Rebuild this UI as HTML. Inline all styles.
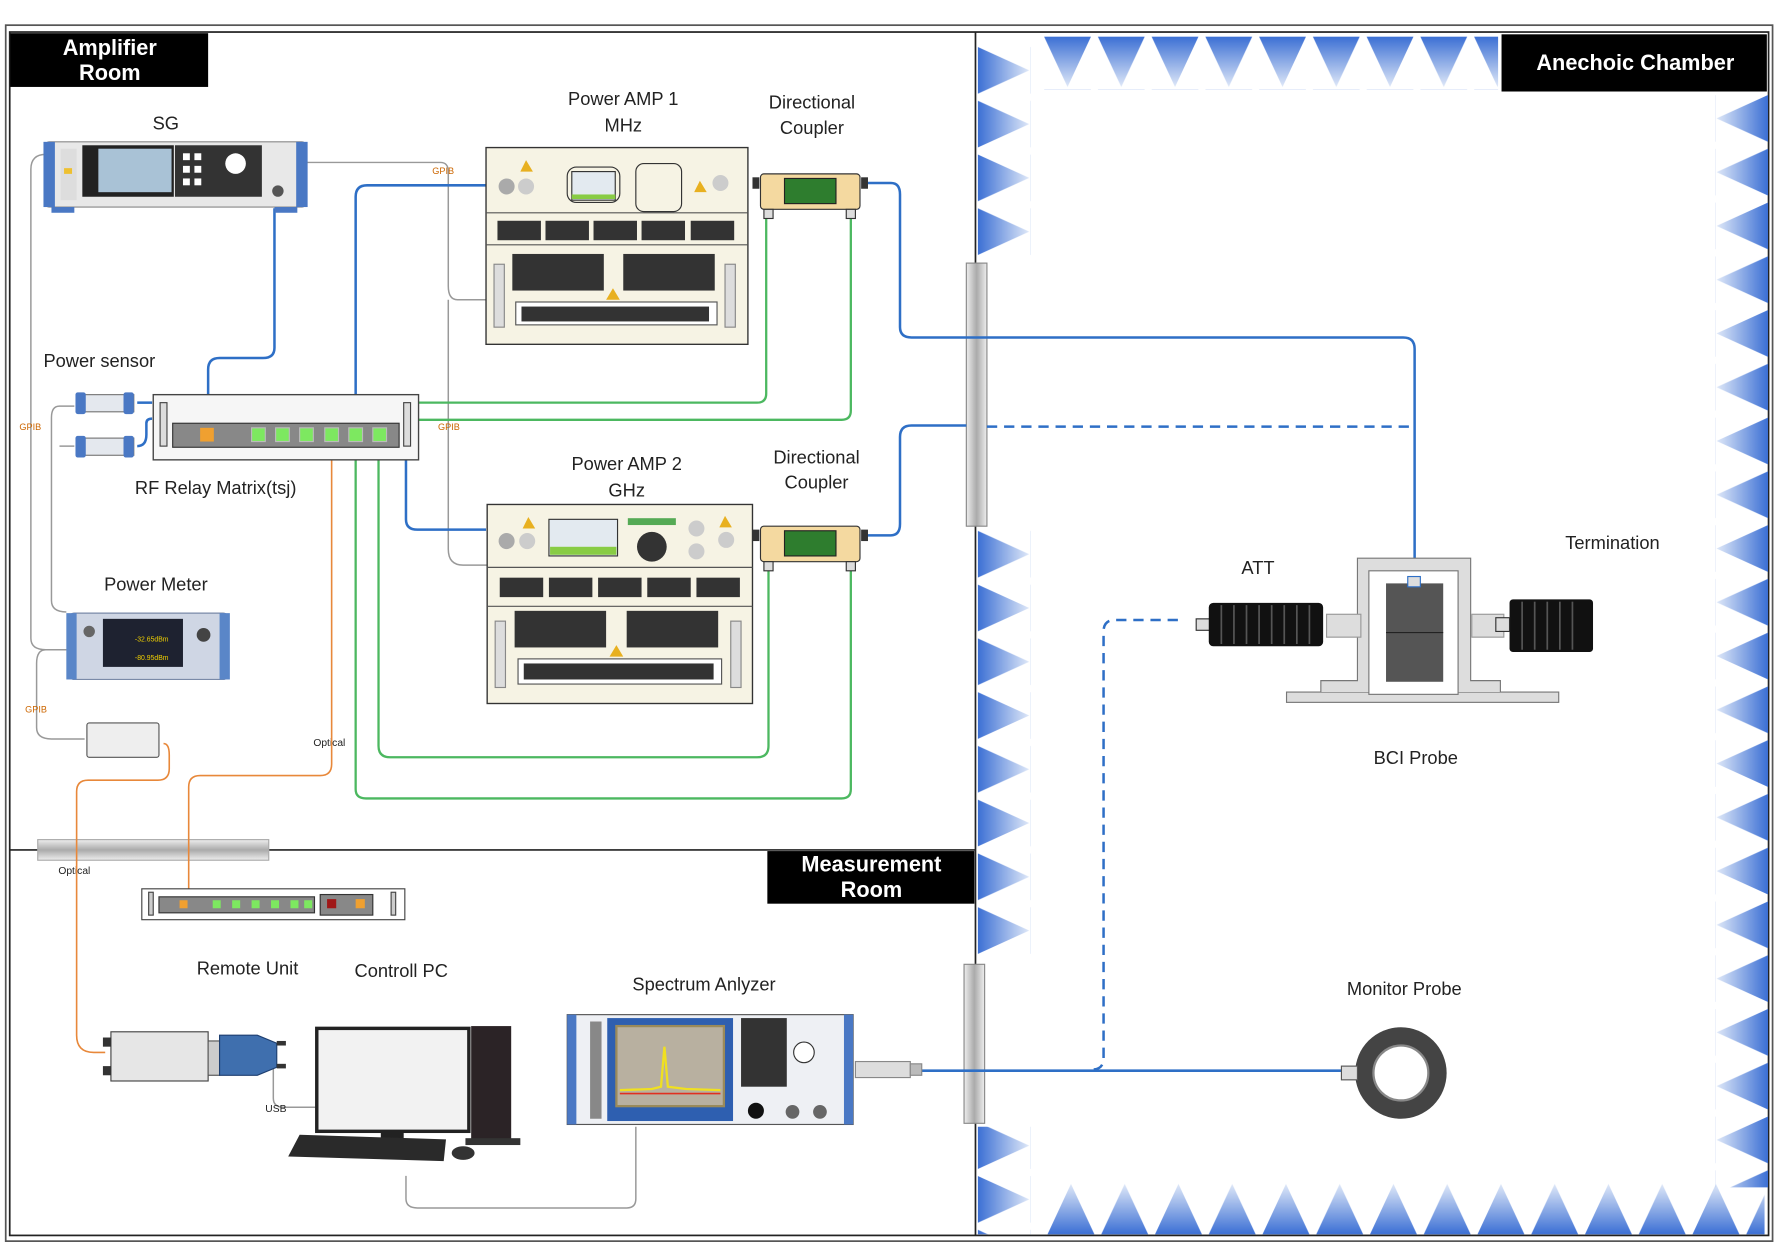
<!DOCTYPE html>
<html><head><meta charset="utf-8"><style>
html,body{margin:0;padding:0;background:#fff;width:1784px;height:1248px;overflow:hidden}
svg{display:block}
text{font-family:"Liberation Sans",sans-serif;fill:#222}
</style></head><body>
<svg width="1784" height="1248" viewBox="0 0 1560 1091" preserveAspectRatio="none" xmlns="http://www.w3.org/2000/svg">
<defs>
<linearGradient id="gd" x1="0" y1="0" x2="0" y2="1"><stop offset="0" stop-color="#3b6fd4"/><stop offset="1" stop-color="#dfe8f8"/></linearGradient>
<linearGradient id="gu" x1="0" y1="1" x2="0" y2="0"><stop offset="0" stop-color="#3b6fd4"/><stop offset="1" stop-color="#dfe8f8"/></linearGradient>
<linearGradient id="gr" x1="0" y1="0" x2="1" y2="0"><stop offset="0" stop-color="#3b6fd4"/><stop offset="1" stop-color="#dfe8f8"/></linearGradient>
<linearGradient id="gl" x1="1" y1="0" x2="0" y2="0"><stop offset="0" stop-color="#3b6fd4"/><stop offset="1" stop-color="#dfe8f8"/></linearGradient>
<linearGradient id="gray" x1="0" y1="0" x2="1" y2="0"><stop offset="0" stop-color="#eee"/><stop offset=".5" stop-color="#aaa"/><stop offset="1" stop-color="#eee"/></linearGradient>
<linearGradient id="grayv" x1="0" y1="0" x2="0" y2="1"><stop offset="0" stop-color="#eee"/><stop offset=".5" stop-color="#aaa"/><stop offset="1" stop-color="#eee"/></linearGradient>
<pattern id="pt" x="910" y="32" width="47" height="46" patternUnits="userSpaceOnUse"><polygon points="3,0 44,0 23.5,44" fill="url(#gd)"/></pattern>
<pattern id="pb" x="913" y="1034" width="47" height="46" patternUnits="userSpaceOnUse"><polygon points="3,45 44,45 23.5,1" fill="url(#gu)"/></pattern>
<pattern id="pl" x="855" y="38" width="46" height="47" patternUnits="userSpaceOnUse"><polygon points="0,3 0,44 45,23.5" fill="url(#gr)"/></pattern>
<pattern id="pr" x="1500" y="80" width="46" height="47" patternUnits="userSpaceOnUse"><polygon points="46,3 46,44 1,23.5" fill="url(#gl)"/></pattern>
</defs>
<rect x="5" y="22" width="1545" height="1063" fill="none" stroke="#555" stroke-width="1.5"/>
<rect x="8.5" y="28" width="1538" height="1052" fill="none" stroke="#222" stroke-width="1.5"/>
<line x1="853" y1="28" x2="853" y2="1080" stroke="#222" stroke-width="1.5"/>
<line x1="8" y1="743" x2="853" y2="743" stroke="#222" stroke-width="1.5"/>
<rect x="910" y="32" width="400" height="46" fill="url(#pt)"/>
<rect x="913" y="1034" width="630" height="46" fill="url(#pb)"/>
<rect x="855" y="38" width="46" height="188" fill="url(#pl)"/>
<rect x="855" y="460" width="46" height="376" fill="url(#pl)"/>
<rect x="855" y="985" width="46" height="94" fill="url(#pl)"/>
<rect x="1500" y="80" width="46" height="958" fill="url(#pr)"/>
<rect x="9" y="29" width="173" height="47" fill="#000"/>
<text x="96" y="48" text-anchor="middle" font-size="19" font-weight="bold" style="fill:#fff">Amplifier</text>
<text x="96" y="70" text-anchor="middle" font-size="19" font-weight="bold" style="fill:#fff">Room</text>
<rect x="1313" y="30" width="232" height="50" fill="#000"/>
<text x="1430" y="61" text-anchor="middle" font-size="19" font-weight="bold" style="fill:#fff">Anechoic Chamber</text>
<rect x="671" y="744" width="181" height="46" fill="#000"/>
<text x="762" y="762" text-anchor="middle" font-size="19" font-weight="bold" style="fill:#fff">Measurement</text>
<text x="762" y="784" text-anchor="middle" font-size="19" font-weight="bold" style="fill:#fff">Room</text>
<rect x="845" y="230" width="18" height="230" fill="url(#gray)" stroke="#888"/>
<rect x="843" y="843" width="18" height="139" fill="url(#gray)" stroke="#888"/>
<rect x="33" y="734" width="202" height="18" fill="url(#grayv)" stroke="#aaa"/>
<g fill="none" stroke="#999" stroke-width="1.3">
<path d="M268,142 H385 Q392,142 392,150 V250 Q392,262 400,262 H430"/>
<path d="M392,262 V480 Q392,494 405,494 H430"/>
<path d="M40,135 Q27,135 27,148 V558 Q27,568 40,568 H58"/>
<path d="M65,355 H52 Q45,355 45,365 V525 Q45,535 58,535"/>
<path d="M65,390 H52"/>
<path d="M58,568 H40 Q32,568 32,580 V636 Q32,646 45,646 H74"/>
<path d="M239,930 V960 Q239,968 248,968 H285"/>
<path d="M355,1028 V1048 Q355,1056 365,1056 H548 Q556,1056 556,1048 V985"/>
</g>
<text x="378" y="152" font-size="8" style="fill:#c60">GPIB</text>
<text x="383" y="376" font-size="8" style="fill:#c60">GPIB</text>
<text x="17" y="376" font-size="8" style="fill:#c60">GPIB</text>
<text x="22" y="623" font-size="8" style="fill:#c60">GPIB</text>
<text x="274" y="652" font-size="9">Optical</text>
<text x="51" y="764" font-size="9">Optical</text>
<text x="232" y="972" font-size="9">USB</text>
<g fill="none" stroke="#e8883a" stroke-width="1.4">
<path d="M290,402 V668 Q290,678 280,678 H175 Q165,678 165,688 V790"/>
<path d="M143,650 Q148,650 148,660 V672 Q148,682 138,682 H77 Q67,682 67,692 V905 Q67,920 82,920 H92"/>
</g>
<g fill="none" stroke="#4cb860" stroke-width="2">
<path d="M366,352 H662 Q670,352 670,344 V188"/>
<path d="M366,367 H736 Q744,367 744,359 V188"/>
<path d="M331,402 V652 Q331,662 341,662 H662 Q672,662 672,652 V496"/>
<path d="M311,402 V690 Q311,698 320,698 H736 Q744,698 744,690 V496"/>
</g>
<g fill="none" stroke="#2e6fc6" stroke-width="2.2">
<path d="M240,182 V304 Q240,313 230,313 H192 Q182,313 182,323 V346"/>
<path d="M311,346 V172 Q311,162 321,162 H425"/>
<path d="M355,402 V454 Q355,463 365,463 H425"/>
<path d="M755,160 H779 Q787,160 787,170 V286 Q787,295 797,295 H1227 Q1237,295 1237,305 V505"/>
<path d="M755,468 H779 Q787,468 787,458 V382 Q787,372 797,372 H845"/>
<path d="M120,352 H133"/><path d="M120,390 Q128,390 128,380 V370 Q128,366 133,366"/>
<path d="M805,936 H1175"/>
</g>
<g fill="none" stroke="#2e6fc6" stroke-width="2.2" stroke-dasharray="9,6">
<path d="M863,373 H1237"/>
<path d="M1030,542 H975 Q965,542 965,552 V925 Q965,935 955,935"/>
</g>
<rect x="40" y="124" width="227" height="57" rx="3" fill="#e8e8e8" stroke="#888"/>
<rect x="38" y="124" width="10" height="57" fill="#4a78c4"/><rect x="259" y="124" width="10" height="57" fill="#4a78c4"/>
<rect x="45" y="181" width="20" height="5" fill="#4a78c4"/><rect x="240" y="181" width="20" height="5" fill="#4a78c4"/>
<rect x="72" y="127" width="80" height="45" fill="#222"/><rect x="86" y="130" width="64" height="38" fill="#a9c2d6"/>
<rect x="153" y="127" width="76" height="45" fill="#333"/><circle cx="206" cy="143" r="9" fill="#fff"/>
<g fill="#fff"><rect x="160" y="134" width="6" height="6"/><rect x="170" y="134" width="6" height="6"/><rect x="160" y="145" width="6" height="6"/><rect x="170" y="145" width="6" height="6"/><rect x="160" y="156" width="6" height="6"/><rect x="170" y="156" width="6" height="6"/></g>
<rect x="53" y="130" width="14" height="45" fill="#ddd"/><rect x="56" y="147" width="7" height="5" fill="#eec030"/>
<circle cx="243" cy="167" r="5" fill="#555"/>
<text x="145" y="113" text-anchor="middle" font-size="16">SG</text>
<g><rect x="67" y="345" width="50" height="15" fill="#e4e8ee" stroke="#777"/><rect x="66" y="343" width="9" height="19" rx="2" fill="#4a78c4"/><rect x="108" y="343" width="9" height="19" rx="2" fill="#4a78c4"/>
<rect x="67" y="383" width="50" height="15" fill="#e4e8ee" stroke="#777"/><rect x="66" y="381" width="9" height="19" rx="2" fill="#4a78c4"/><rect x="108" y="381" width="9" height="19" rx="2" fill="#4a78c4"/></g>
<text x="38" y="321" font-size="16">Power sensor</text>
<rect x="134" y="345" width="232" height="57" fill="#f6f6f6" stroke="#444" stroke-width="1.2"/>
<rect x="140" y="352" width="6" height="38" fill="#ddd" stroke="#444"/><rect x="353" y="352" width="6" height="38" fill="#ddd" stroke="#444"/>
<rect x="151" y="370" width="198" height="21" fill="#888" stroke="#333"/>
<rect x="175" y="374" width="12" height="12" fill="#f0a030"/>
<g fill="#7de860" stroke="#bbb"><rect x="220" y="374" width="12" height="12"/><rect x="241" y="374" width="12" height="12"/><rect x="262" y="374" width="12" height="12"/><rect x="284" y="374" width="12" height="12"/><rect x="305" y="374" width="12" height="12"/><rect x="326" y="374" width="12" height="12"/></g>
<text x="118" y="432" font-size="16">RF Relay Matrix(tsj)</text>
<rect x="60" y="536" width="140" height="58" rx="5" fill="#cfd6e4" stroke="#7a8aa8"/>
<rect x="58" y="536" width="9" height="58" fill="#5a86c8"/><rect x="192" y="536" width="9" height="58" fill="#5a86c8"/>
<rect x="90" y="541" width="70" height="42" fill="#1e2230"/>
<text x="118" y="561" font-size="6" style="fill:#f0d000">-32.65dBm</text><text x="118" y="577" font-size="6" style="fill:#f0d000">-80.95dBm</text>
<circle cx="178" cy="555" r="6" fill="#444"/><circle cx="78" cy="552" r="5" fill="#666"/>
<text x="91" y="516" font-size="16">Power Meter</text>
<rect x="76" y="632" width="63" height="30" rx="2" fill="#eee" stroke="#555"/>
<rect x="124" y="777" width="230" height="27" fill="#fff" stroke="#444"/>
<rect x="130" y="780" width="4" height="20" fill="#ccc" stroke="#444"/><rect x="342" y="780" width="4" height="20" fill="#ccc" stroke="#444"/>
<rect x="139" y="784" width="136" height="14" fill="#888" stroke="#333"/>
<rect x="280" y="782" width="46" height="18" fill="#888" stroke="#333"/>
<rect x="286" y="786" width="8" height="8" fill="#a01818"/><rect x="311" y="786" width="8" height="8" fill="#f0a030"/>
<g fill="#7de860"><rect x="157" y="787" width="7" height="7" fill="#f0a030"/><rect x="186" y="787" width="7" height="7"/><rect x="203" y="787" width="7" height="7"/><rect x="220" y="787" width="7" height="7"/><rect x="237" y="787" width="7" height="7"/><rect x="254" y="787" width="7" height="7"/><rect x="266" y="787" width="7" height="7"/></g>
<rect x="97" y="902" width="85" height="43" fill="#e6e6e6" stroke="#444"/>
<rect x="90" y="907" width="7" height="8" fill="#333"/><rect x="90" y="932" width="7" height="8" fill="#333"/>
<rect x="182" y="910" width="10" height="30" fill="#ccc" stroke="#555"/>
<path d="M192,905 H225 L242,912 V933 L225,940 H192 Z" fill="#3f6fae" stroke="#1e3f70"/>
<rect x="242" y="910" width="8" height="4" fill="#333"/><rect x="242" y="930" width="8" height="4" fill="#333"/>
<text x="172" y="852" font-size="16">Remote Unit</text>
<rect x="277" y="899" width="133" height="90" fill="#f2f2f2" stroke="#222" stroke-width="3"/>
<rect x="333" y="989" width="20" height="8" fill="#222"/><rect x="313" y="996" width="60" height="5" fill="#222"/>
<rect x="412" y="897" width="35" height="100" fill="#2b2326"/><rect x="407" y="995" width="48" height="6" fill="#333"/>
<polygon points="262,992 390,996 388,1015 252,1011" fill="#2a2a2a"/>
<ellipse cx="405" cy="1008" rx="10" ry="6" fill="#333"/>
<text x="310" y="854" font-size="16">Controll PC</text>
<rect x="496" y="887" width="250" height="96" fill="#eef0f4" stroke="#555"/>
<rect x="496" y="887" width="8" height="96" fill="#4a78c4"/><rect x="738" y="887" width="8" height="96" fill="#4a78c4"/>
<rect x="531" y="890" width="110" height="90" fill="#2e5fb0"/>
<rect x="538" y="896" width="96" height="72" fill="#9a8a5a"/>
<rect x="540" y="898" width="92" height="68" fill="#b8b0a0"/>
<polyline points="542,953 570,952 578,950 581,915 584,950 600,952 630,953" fill="none" stroke="#f0e020" stroke-width="2"/>
<polyline points="542,956 630,956" stroke="#e03020" stroke-width="1.5"/>
<rect x="648" y="890" width="40" height="60" fill="#333"/><circle cx="703" cy="920" r="9" fill="#fff" stroke="#333"/>
<circle cx="661" cy="971" r="7" fill="#111"/><circle cx="693" cy="972" r="6" fill="#666"/><circle cx="717" cy="972" r="6" fill="#666"/>
<rect x="516" y="893" width="10" height="85" fill="#888"/>
<rect x="748" y="928" width="48" height="14" fill="#ddd" stroke="#888"/><rect x="796" y="930" width="10" height="10" fill="#bbb" stroke="#888"/>
<text x="553" y="866" font-size="16">Spectrum Anlyzer</text>
<g>
<rect x="425" y="129" width="229" height="172" fill="#f6f3e4" stroke="#333" stroke-width="1.2"/>
<line x1="425" y1="186" x2="654" y2="186" stroke="#555"/><line x1="425" y1="214" x2="654" y2="214" stroke="#555"/>
<rect x="556" y="143" width="40" height="42" rx="7" fill="none" stroke="#333"/>
<rect x="496" y="146" width="46" height="31" rx="8" fill="none" stroke="#333"/>
<rect x="500" y="150" width="38" height="25" fill="#e3eaf0" stroke="#333"/><rect x="500" y="170" width="38" height="4" fill="#8c4"/>
<circle cx="443" cy="163" r="7" fill="#aaa"/><circle cx="460" cy="163" r="7" fill="#ccc"/><circle cx="630" cy="160" r="7" fill="#ccc"/>
<polygon points="455,150 466,150 460,140" fill="#e8b020"/><polygon points="607,168 618,168 612,158" fill="#e8b020"/>
<g fill="#333"><rect x="435" y="193" width="38" height="17"/><rect x="477" y="193" width="38" height="17"/><rect x="519" y="193" width="38" height="17"/><rect x="561" y="193" width="38" height="17"/><rect x="604" y="193" width="38" height="17"/></g>
<rect x="448" y="222" width="80" height="32" fill="#333"/><rect x="545" y="222" width="80" height="32" fill="#333"/>
<rect x="451" y="264" width="176" height="20" fill="#fff" stroke="#555"/><rect x="456" y="268" width="164" height="13" fill="#333"/>
<rect x="432" y="231" width="9" height="55" fill="#ddd" stroke="#888"/><rect x="634" y="231" width="9" height="55" fill="#ddd" stroke="#888"/>
<polygon points="530,262 542,262 536,252" fill="#e8b020"/>
</g>
<g>
<rect x="426" y="441" width="232" height="174" fill="#f6f3e4" stroke="#333" stroke-width="1.2"/>
<line x1="426" y1="496" x2="658" y2="496" stroke="#555"/><line x1="426" y1="530" x2="658" y2="530" stroke="#555"/>
<rect x="480" y="454" width="60" height="32" fill="#e3eaf0" stroke="#333"/><rect x="481" y="478" width="58" height="7" fill="#8c4"/>
<circle cx="570" cy="478" r="13" fill="#333"/>
<rect x="549" y="453" width="42" height="6" fill="#5a5"/>
<circle cx="443" cy="473" r="7" fill="#aaa"/><circle cx="461" cy="473" r="7" fill="#ccc"/><circle cx="609" cy="462" r="7" fill="#ccc"/><circle cx="609" cy="482" r="7" fill="#ccc"/><circle cx="635" cy="472" r="7" fill="#ccc"/>
<polygon points="457,462 468,462 462,452" fill="#e8b020"/><polygon points="629,461 640,461 634,451" fill="#e8b020"/>
<g fill="#333"><rect x="437" y="505" width="38" height="17"/><rect x="480" y="505" width="38" height="17"/><rect x="523" y="505" width="38" height="17"/><rect x="566" y="505" width="38" height="17"/><rect x="609" y="505" width="38" height="17"/></g>
<rect x="450" y="534" width="80" height="32" fill="#333"/><rect x="548" y="534" width="80" height="32" fill="#333"/>
<rect x="453" y="576" width="178" height="22" fill="#fff" stroke="#555"/><rect x="458" y="580" width="166" height="14" fill="#333"/>
<rect x="433" y="543" width="9" height="58" fill="#ddd" stroke="#888"/><rect x="639" y="543" width="9" height="58" fill="#ddd" stroke="#888"/>
<polygon points="533,574 545,574 539,564" fill="#e8b020"/>
</g>
<text x="545" y="92" text-anchor="middle" font-size="16">Power AMP 1</text>
<text x="545" y="115" text-anchor="middle" font-size="16">MHz</text>
<text x="548" y="411" text-anchor="middle" font-size="16">Power AMP 2</text>
<text x="548" y="434" text-anchor="middle" font-size="16">GHz</text>
<g>
<rect x="665" y="152" width="87" height="31" rx="3" fill="#f4d9a0" stroke="#333"/><rect x="686" y="156" width="45" height="22" fill="#2e7d2e" stroke="#222"/>
<rect x="658" y="155" width="6" height="10" fill="#333"/><rect x="753" y="155" width="6" height="10" fill="#333"/>
<rect x="668" y="183" width="8" height="8" fill="#ddd" stroke="#333"/><rect x="740" y="183" width="8" height="8" fill="#ddd" stroke="#333"/>
<rect x="665" y="460" width="87" height="31" rx="3" fill="#f4d9a0" stroke="#333"/><rect x="686" y="464" width="45" height="22" fill="#2e7d2e" stroke="#222"/>
<rect x="658" y="463" width="6" height="10" fill="#333"/><rect x="753" y="463" width="6" height="10" fill="#333"/>
<rect x="668" y="491" width="8" height="8" fill="#ddd" stroke="#333"/><rect x="740" y="491" width="8" height="8" fill="#ddd" stroke="#333"/>
</g>
<text x="710" y="95" text-anchor="middle" font-size="16">Directional</text>
<text x="710" y="117" text-anchor="middle" font-size="16">Coupler</text>
<text x="714" y="405" text-anchor="middle" font-size="16">Directional</text>
<text x="714" y="427" text-anchor="middle" font-size="16">Coupler</text>
<rect x="1125" y="605" width="238" height="9" fill="#ddd" stroke="#777"/>
<path d="M1155,605 V595 H1187 V488 H1286 V595 H1312 V605" fill="#ddd" stroke="#777"/>
<rect x="1197" y="499" width="78" height="108" fill="#fff" stroke="#777"/>
<rect x="1212" y="510" width="50" height="86" fill="#555"/><line x1="1212" y1="553" x2="1262" y2="553" stroke="#222"/>
<rect x="1231" y="504" width="11" height="9" fill="#ddd" stroke="#2e6fc6"/>
<rect x="1160" y="537" width="30" height="20" fill="#ddd" stroke="#999"/>
<rect x="1287" y="537" width="28" height="20" fill="#ddd" stroke="#999"/>
<rect x="1046" y="541" width="12" height="10" fill="#ddd" stroke="#333"/>
<rect x="1057" y="527" width="100" height="38" rx="4" fill="#111"/>
<rect x="1320" y="524" width="73" height="46" rx="3" fill="#111"/>
<g stroke="#555" stroke-width="1.5"><line x1="1068" y1="529" x2="1068" y2="563"/><line x1="1079" y1="529" x2="1079" y2="563"/><line x1="1090" y1="529" x2="1090" y2="563"/><line x1="1101" y1="529" x2="1101" y2="563"/><line x1="1112" y1="529" x2="1112" y2="563"/><line x1="1123" y1="529" x2="1123" y2="563"/><line x1="1134" y1="529" x2="1134" y2="563"/><line x1="1145" y1="529" x2="1145" y2="563"/>
<line x1="1331" y1="526" x2="1331" y2="568"/><line x1="1342" y1="526" x2="1342" y2="568"/><line x1="1353" y1="526" x2="1353" y2="568"/><line x1="1364" y1="526" x2="1364" y2="568"/><line x1="1375" y1="526" x2="1375" y2="568"/></g>
<rect x="1308" y="540" width="12" height="12" fill="#ddd" stroke="#333"/>
<text x="1100" y="502" text-anchor="middle" font-size="16">ATT</text>
<text x="1410" y="480" text-anchor="middle" font-size="16">Termination</text>
<text x="1238" y="668" text-anchor="middle" font-size="16">BCI Probe</text>
<circle cx="1225" cy="938" r="40" fill="#444"/><circle cx="1225" cy="938" r="24" fill="#fff" stroke="#888" stroke-width="2"/>
<rect x="1173" y="932" width="14" height="12" fill="#ddd" stroke="#555"/>
<text x="1228" y="870" text-anchor="middle" font-size="16">Monitor Probe</text>
</svg>
</body></html>
